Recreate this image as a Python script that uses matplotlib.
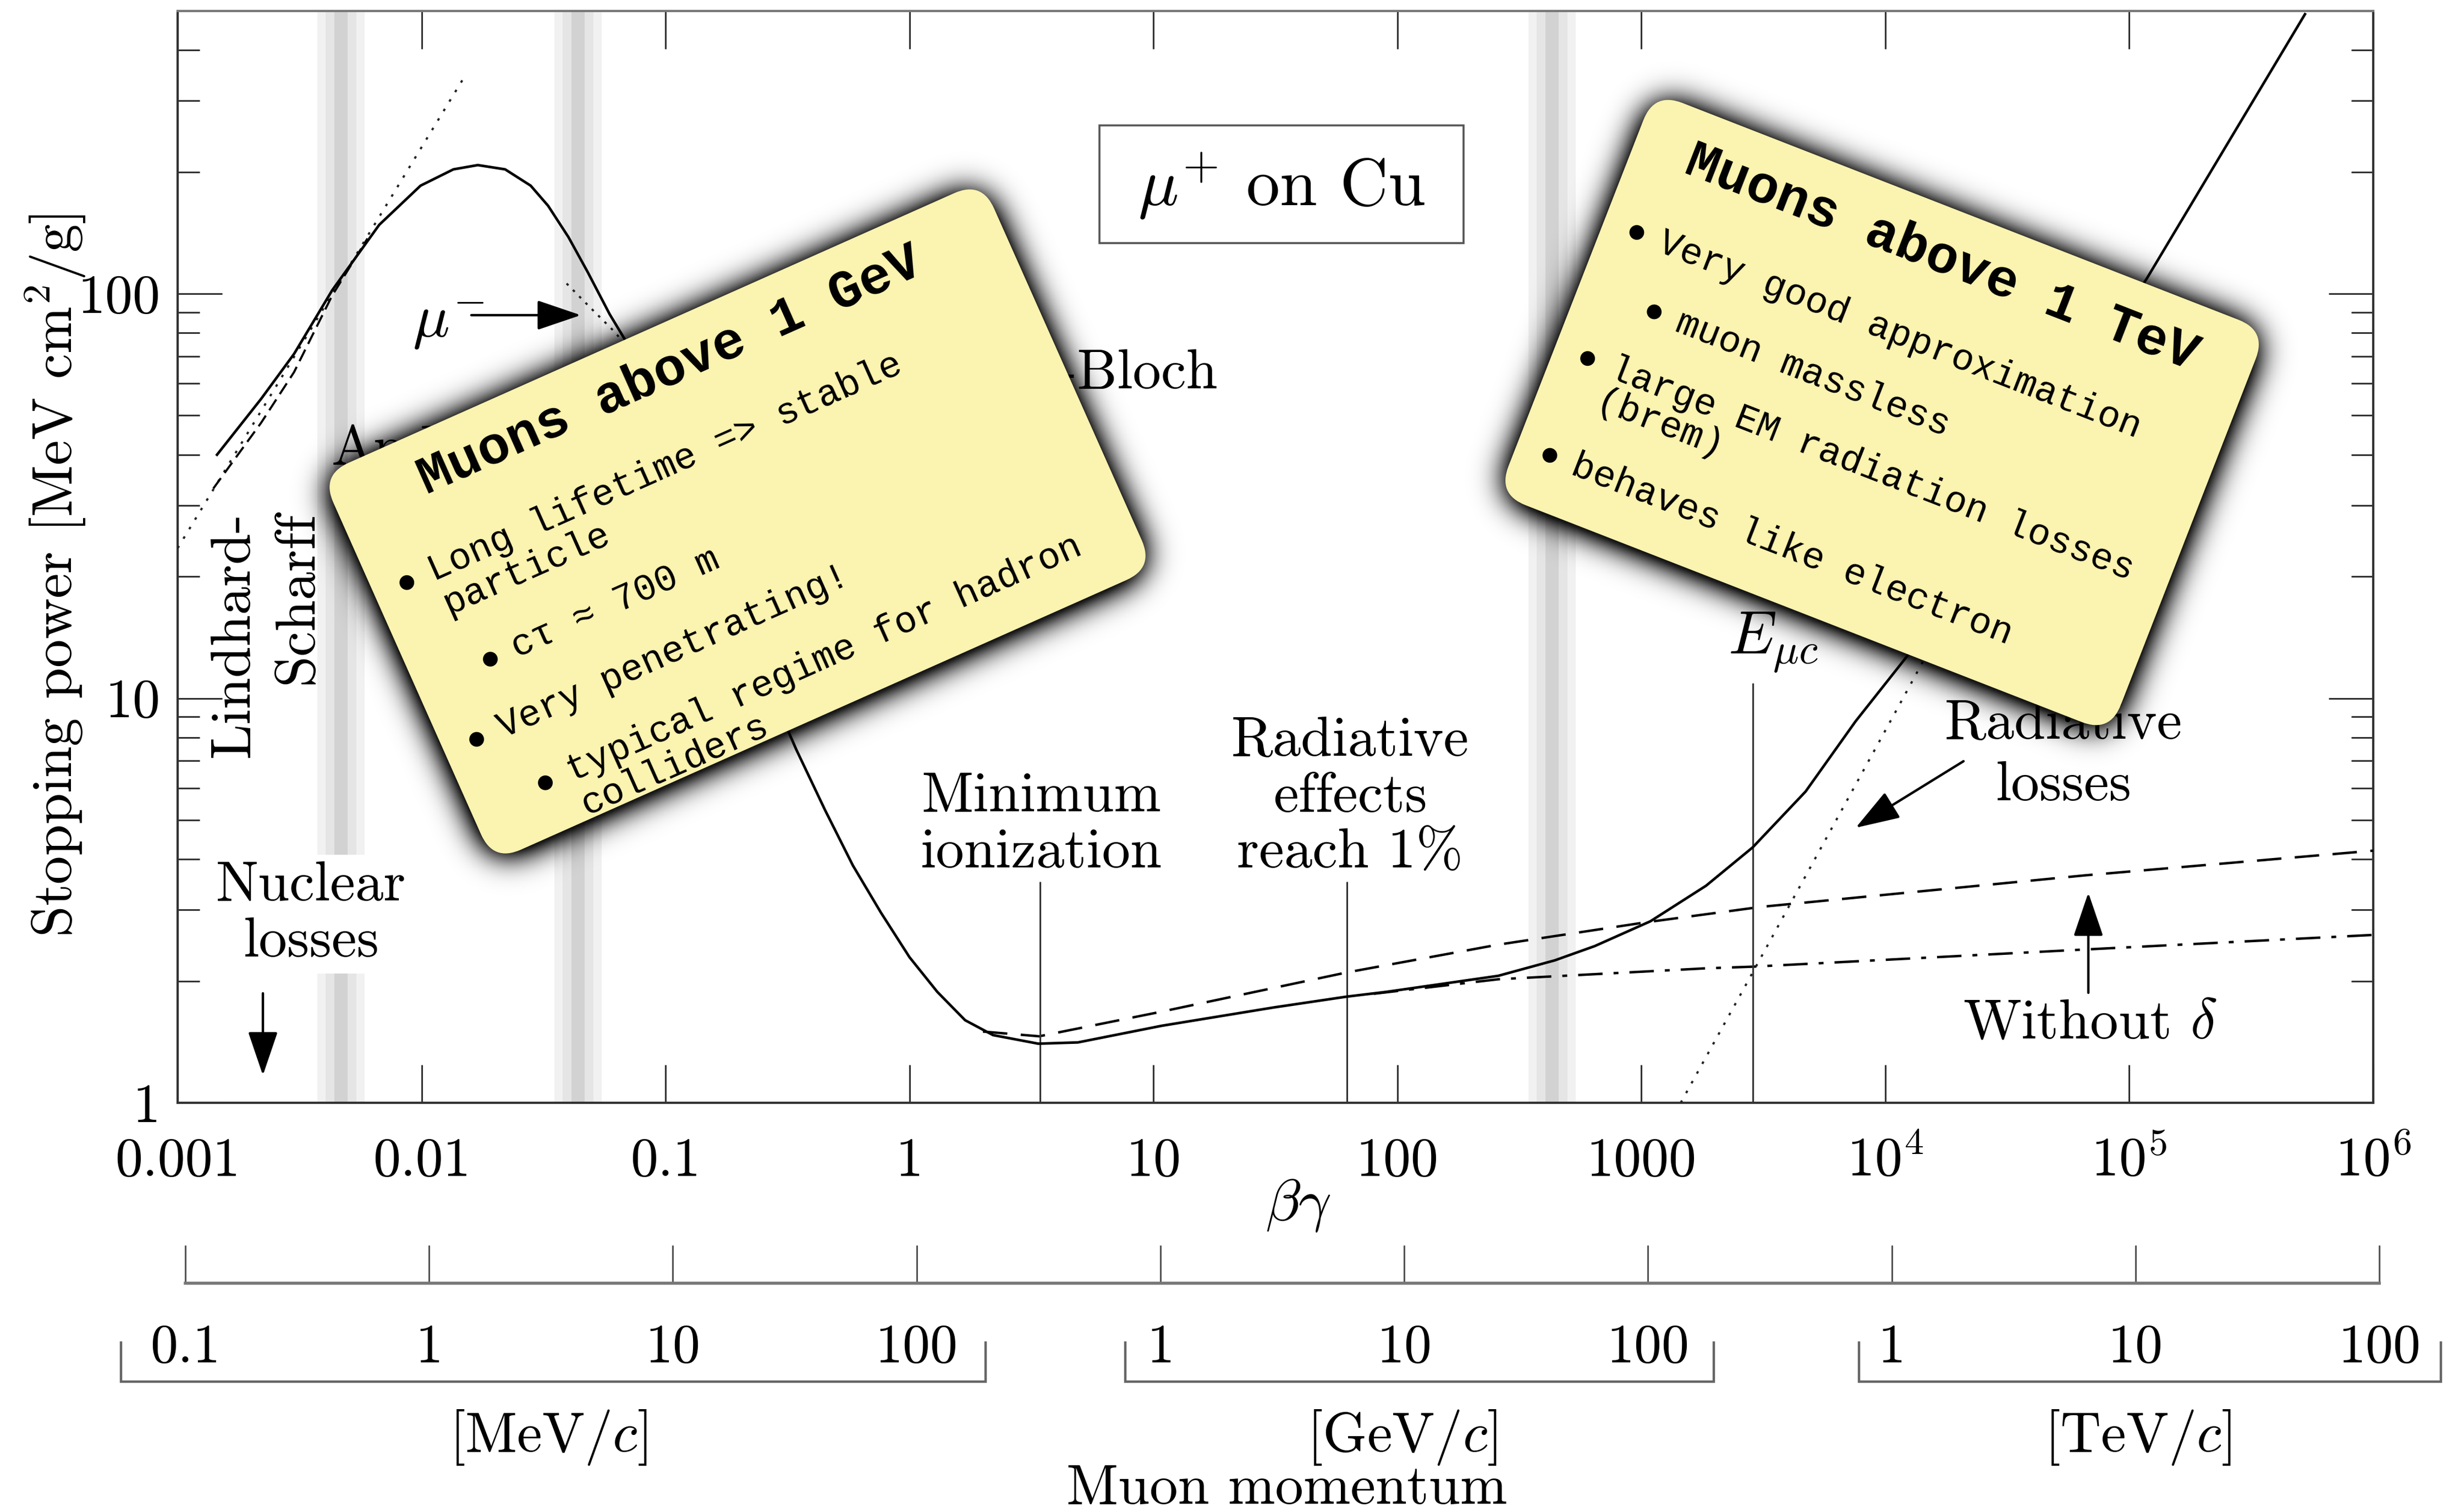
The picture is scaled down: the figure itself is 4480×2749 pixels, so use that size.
import numpy as np
import matplotlib
matplotlib.use('Agg')
import matplotlib.pyplot as plt
import matplotlib.ticker as mticker
from matplotlib.patches import FancyBboxPatch, Circle, Rectangle
from matplotlib.transforms import Affine2D

W, H, DPI = 4480, 2749, 200

plt.rcParams['font.family'] = 'cmr10'
plt.rcParams['mathtext.fontset'] = 'cm'
plt.rcParams['axes.formatter.use_mathtext'] = True
plt.rcParams['axes.unicode_minus'] = False

MONO = ['Liberation Mono', 'DejaVu Sans Mono']
CARD = '#FBF3B0'

# mu+ on copper, total stopping power [MeV cm^2/g] against beta*gamma
total_bg = [0.00145, 0.0022, 0.0030, 0.0043, 0.0067, 0.0099, 0.0135, 0.0170, 0.0220,
            0.0280, 0.0330, 0.0400, 0.0480, 0.0590, 0.070, 0.10, 0.15, 0.20, 0.25,
            0.343, 0.45, 0.586, 0.764, 1.0, 1.30, 1.69, 2.2, 3.37, 4.9, 10.8, 31, 62,
            90, 259, 442, 644, 1089, 1841, 2860, 4710, 7550, 12400, 20000, 50000,
            119000, 525000]
total_sp = [40, 55, 71, 102, 148, 185, 203, 208, 203,
            185, 165, 138, 113, 89, 75, 47, 25, 16, 11.6,
            7.48, 5.3, 3.86, 2.95, 2.29, 1.88, 1.60, 1.47, 1.40, 1.41, 1.55, 1.72, 1.83,
            1.88, 2.06, 2.25, 2.44, 2.81, 3.44, 4.28, 5.88, 8.77, 12.8, 20.1, 48,
            110, 491]

# ionisation loss without density effect (dashed)
nodelta_bg = [2.0, 3.4, 10.8, 62, 259, 1028, 3090, 66000, 1e6]
nodelta_sp = [1.50, 1.46, 1.68, 2.10, 2.46, 2.79, 3.05, 3.65, 4.2]

# ionisation loss with density effect (dash-dot)
ion_bg = [80, 259, 1841, 2860, 55000, 1e6]
ion_sp = [1.86, 2.02, 2.15, 2.17, 2.38, 2.60]

# radiative losses (dotted)
rad_bg = [1450, 2860, 10300, 30000]
rad_sp = [1.0, 2.1, 8.6, 28]

# Lindhard-Scharff low-energy line
lind_bg = [0.001, 0.0149]
lind_sp = [23.5, 342]

# Anderson-Ziegler fit (short dashes)
az_bg = [0.0014, 0.0022, 0.0030, 0.0043, 0.0060]
az_sp = [33, 48, 64, 99, 137]

# mu- (Barkas effect)
mum_bg = [0.0393, 0.0483, 0.0617, 0.075]
mum_sp = [106, 93.4, 80.6, 70]

# region boundaries and marker lines (beta*gamma)
band_bg = [0.00467, 0.0438, 430]
mark_bg = [3.43, 62.1, 2860]
mark_top = [3.52, 3.52, 10.9]

x_ticks = [1e-3, 1e-2, 1e-1, 1, 10, 100, 1000, 1e4, 1e5, 1e6]
x_labels = ['0.001', '0.01', '0.1', '1', '10', '100', '1000',
            r'$10^4$', r'$10^5$', r'$10^6$']
y_ticks = [1, 10, 100]
y_labels = ['1', '10', '100']

# muon momentum scale in MeV/c
p_ticks = [0.1, 1, 10, 100, 1e3, 1e4, 1e5, 1e6, 1e7, 1e8]
p_labels = ['0.1', '1', '10', '100', '1', '10', '100', '1', '10', '100']

gev_title = 'Muons above 1 GeV'
gev_items = [(0, ['Long lifetime => stable', 'particle']),
             (1, ['cτ ≈ 700 m']),
             (0, ['Very penetrating!']),
             (1, ['typical regime for hadron', 'colliders'])]
tev_title = 'Muons above 1 TeV'
tev_items = [(0, ['Very good approximation']),
             (1, ['muon massless']),
             (0, ['large EM radiation losses', '(brem)']),
             (0, ['behaves like electron'])]

fig = plt.figure(figsize=(W / DPI, H / DPI), dpi=DPI)

# main stopping power axes
ax = fig.add_axes([323 / W, 1 - 2005 / H, (4315 - 323) / W, (2005 - 20) / H])
ax.set_xscale('log')
ax.set_yscale('log')
ax.set_xlim(1e-3, 1e6)
ax.set_ylim(1, 500)

for c in band_bg:
    for hw, col in [(0.097, '#f1f1f1'), (0.063, '#e5e5e5'), (0.027, '#d2d2d2')]:
        ax.axvspan(c * 10 ** -hw, c * 10 ** hw, color=col, lw=0, zorder=0)

ax.plot(total_bg, total_sp, color='k', lw=1.7, zorder=4)
ax.plot(nodelta_bg, nodelta_sp, color='k', lw=1.6, ls=(0, (10, 5.5)), zorder=3)
ax.plot(ion_bg, ion_sp, color='k', lw=1.6, ls=(0, (10, 4.5, 2, 4.5)), zorder=3)
ax.plot(rad_bg, rad_sp, color='#222', lw=1.4, ls=(0, (1.2, 4)), zorder=3)
ax.plot(lind_bg, lind_sp, color='#222', lw=1.4, ls=(0, (1.2, 4)), zorder=3)
ax.plot(az_bg, az_sp, color='k', lw=1.4, ls=(0, (6, 3)), zorder=3)
ax.plot(mum_bg, mum_sp, color='#222', lw=1.4, ls=(0, (1.2, 3)), zorder=3)
ax.vlines(mark_bg, 1, mark_top, color='#333', lw=1.1, zorder=3)

ax.set_xticks(x_ticks)
ax.set_yticks(y_ticks)
ax.xaxis.set_minor_locator(mticker.NullLocator())
ax.tick_params(axis='x', which='major', direction='in', length=25, width=1.1,
               color='#333', pad=48, labelsize=36, top=True)
ax.tick_params(axis='y', which='major', direction='in', length=29, width=1.1,
               color='#333', pad=11.5, labelsize=36, right=True)
ax.tick_params(axis='y', which='minor', direction='in', length=14.5, width=1.1,
               color='#333', right=True)
ax.yaxis.set_minor_formatter(mticker.NullFormatter())
ax.set_xticklabels(x_labels, va='baseline')
ax.set_yticklabels(y_labels)
for side, sp in ax.spines.items():
    sp.set_linewidth(1.5)
    sp.set_color('#777' if side == 'top' else '#333')

# momentum scale below the beta*gamma axis
axp = fig.add_axes([337 / W, 1 - 2333 / H, (4326 - 337) / W, 0.02])
axp.set_xscale('log')
axp.set_xlim(0.1, 1e8)
axp.set_yticks([])
axp.patch.set_visible(False)
for side in ['top', 'left', 'right']:
    axp.spines[side].set_visible(False)
axp.spines['bottom'].set_color('#777')
axp.spines['bottom'].set_linewidth(2.0)
axp.set_xticks(p_ticks)
axp.xaxis.set_minor_locator(mticker.NullLocator())
axp.tick_params(axis='x', which='major', direction='in', length=25, width=1.1,
                color='#555', pad=52, labelsize=36)
axp.set_xticklabels(p_labels, va='baseline')

# overlay in figure pixels (y downwards) for labels and the note cards
ov = fig.add_axes([0, 0, 1, 1])
ov.axis('off')


def arrow(tail, tip):
    ov.annotate('', xy=tip, xytext=tail,
                arrowprops=dict(arrowstyle='-|>,head_length=0.5,head_width=0.17',
                                mutation_scale=50, lw=1.6, color='k',
                                shrinkA=0, shrinkB=0), zorder=2)


ov.text(100, 1046, r'Stopping power [MeV cm$^2$/g]', rotation=90,
        ha='center', va='center', fontsize=37)
ov.text(2360, 2192, r'$\beta\gamma$', ha='center', va='center', fontsize=38)
ov.text(997, 2639, r'[MeV/$c$]', ha='center', va='baseline', fontsize=37)
ov.text(2549, 2639, r'[GeV/$c$]', ha='center', va='baseline', fontsize=37)
ov.text(3887, 2639, r'[TeV/$c$]', ha='center', va='baseline', fontsize=37)
ov.text(2340, 2734, 'Muon momentum', ha='center', va='baseline', fontsize=37)
for x0, x1 in [(220, 1792), (2046, 3116), (3380, 4438)]:
    ov.plot([x0, x0, x1, x1], [2441, 2512, 2512, 2441], color='#666', lw=1.6,
            solid_joinstyle='miter')

ov.add_patch(Rectangle((1999, 228), 662, 214, facecolor='white',
                       edgecolor='#555', lw=1.3, zorder=2))
ov.text(2330, 338, r'$\mu^{+}$ on Cu', ha='center', va='center', fontsize=44, zorder=3)

ov.text(750, 613, r'$\mu^{-}$', ha='left', va='baseline', fontsize=40)
arrow((857, 573), (1056, 573))
ov.text(2214, 706, 'Bethe-Bloch', ha='right', va='baseline', fontsize=37)
ov.text(603, 845, 'Anderson-', ha='left', va='baseline', fontsize=37)
ov.text(484, 1154, 'Lindhard-\nScharff', rotation=90, ha='center', va='center',
        multialignment='right', linespacing=1.33, fontsize=37)
ov.text(566, 1662, 'Nuclear\nlosses', ha='center', va='center', linespacing=1.15,
        fontsize=37, bbox=dict(facecolor='white', edgecolor='none', pad=4))
arrow((478, 1806), (478, 1955))
ov.text(1893, 1500, 'Minimum\nionization', ha='center', va='center',
        linespacing=1.15, fontsize=37)
ov.text(2455, 1450, 'Radiative\neffects\nreach 1%', ha='center', va='center',
        linespacing=1.15, fontsize=37)
ov.text(3142, 1189, r'$E_{\mu c}$', ha='left', va='baseline', fontsize=40)
ov.text(3752, 1373, 'Radiative\nlosses', ha='center', va='center',
        linespacing=1.29, fontsize=37)
arrow((3570, 1384), (3374, 1505))
ov.text(3800, 1888, r'Without $\delta$', ha='center', va='baseline', fontsize=37)
arrow((3797, 1805), (3797, 1623))

cards = [(1341, 948, 1315, 770, 24.0, gev_title, gev_items),
         (3422, 750, 1195, 785, -21.3, tev_title, tev_items)]
R = 55


def card_frame(ang):
    t = np.deg2rad(ang)
    u = np.array([np.cos(t), -np.sin(t)])
    v = np.array([-np.sin(t), -np.cos(t)])
    return u, v


# soft drop shadow around the cards
S = 4
gx = (np.arange(W // S) + 0.5) * S
gy = (np.arange(int(np.ceil(H / S))) + 0.5) * S
X, Y = np.meshgrid(gx, gy)
mask = np.zeros_like(X)
for cx, cy, w, h, ang, _, _ in cards:
    u, v = card_frame(ang)
    dx, dy = X - cx, Y - 4 - cy
    lx = dx * u[0] + dy * u[1]
    ly = dx * v[0] + dy * v[1]
    qx = np.abs(lx) - (w / 2 - R)
    qy = np.abs(ly) - (h / 2 - R)
    d = np.hypot(np.maximum(qx, 0), np.maximum(qy, 0)) + np.minimum(np.maximum(qx, qy), 0) - R
    mask = np.maximum(mask, (d <= 0).astype(float))
sig = 28 / S
kx = np.arange(-int(4 * sig), int(4 * sig) + 1)
k = np.exp(-0.5 * (kx / sig) ** 2)
k /= k.sum()
blur = np.apply_along_axis(np.convolve, 1, mask, k, mode='same')
blur = np.apply_along_axis(np.convolve, 0, blur, k, mode='same')
rgba = np.zeros(mask.shape + (4,))
rgba[..., 3] = np.clip(blur * 1.8, 0, 0.92)
ov.imshow(rgba, extent=(0, len(gx) * S, len(gy) * S, 0), interpolation='bilinear',
          aspect='auto', zorder=5)

for cx, cy, w, h, ang, title, items in cards:
    u, v = card_frame(ang)
    c = np.array([cx, cy])
    ov.add_patch(FancyBboxPatch((-w / 2, -h / 2), w, h,
                                boxstyle=f'round,pad=0,rounding_size={R}',
                                transform=Affine2D().rotate_deg(-ang).translate(cx, cy) + ov.transData,
                                facecolor=CARD, edgecolor='none', zorder=6))
    p = c + 300 * v
    ov.text(p[0], p[1], title, rotation=ang, rotation_mode='anchor', ha='center',
            va='center', fontsize=35, fontweight='bold', family=MONO, zorder=7)
    yl = 143
    for level, lines in items:
        bx = -w / 2 + 63 + 82 * level
        b = c + bx * u + yl * v
        ov.add_patch(Circle((b[0], b[1]), 12, color='k', zorder=7))
        for i, line in enumerate(lines):
            q = c + (bx + 45) * u + (yl - 66 * i) * v
            ov.text(q[0], q[1], line, rotation=ang, rotation_mode='anchor', ha='left',
                    va='center', fontsize=24.5, family=MONO, zorder=7)
        yl -= 123 + 66 * (len(lines) - 1)

ov.set_xlim(0, W)
ov.set_ylim(H, 0)

fig.savefig('out.png', dpi=DPI)
